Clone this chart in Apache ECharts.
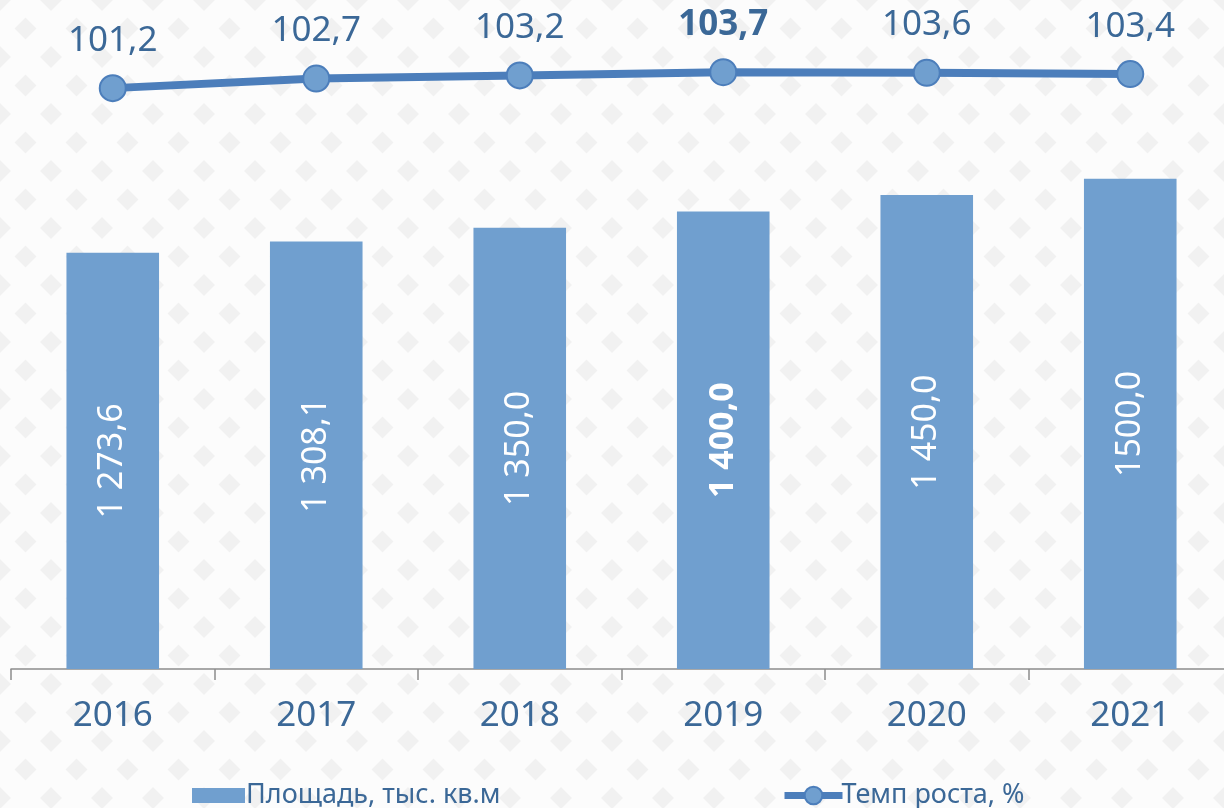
<!DOCTYPE html>
<html lang="ru">
<head>
  <meta charset="UTF-8">
  <title>Площадь и темп роста</title>
  <script src="https://cdn.jsdelivr.net/npm/echarts@6/dist/echarts.min.js"></script>
  <style>
    html, body { margin: 0; padding: 0; background: #fcfcfc; }
    #chart { width: 1224px; height: 808px; }
  </style>
</head>
<body>
<div id="chart"></div>
<script type="text/javascript">
  // data
  var years = ['2016', '2017', '2018', '2019', '2020', '2021'];
  var area = [1273.6, 1308.1, 1350.0, 1400.0, 1450.0, 1500.0];
  var areaLabels = ['1 273,6', '1 308,1', '1 350,0', '1 400,0', '1 450,0', '1500,0'];
  var growth = [101.2, 102.7, 103.2, 103.7, 103.6, 103.4];
  var growthLabels = ['101,2', '102,7', '103,2', '103,7', '103,6', '103,4'];
  var boldIndex = 3;

  var barColor = '#709fcf';
  var lineColor = '#4c7ebb';
  var textColor = '#3b6897';
  var font = 'Noto Sans';

  // faint diamond background
  var pat = document.createElement('canvas');
  pat.width = 51; pat.height = 57;
  var ctx = pat.getContext('2d');
  ctx.fillStyle = '#fcfcfc';
  ctx.fillRect(0, 0, 51, 57);
  ctx.fillStyle = '#f1f1f1';
  function diamond(cx, cy, r) {
    ctx.beginPath();
    ctx.moveTo(cx, cy - r); ctx.lineTo(cx + r, cy); ctx.lineTo(cx, cy + r); ctx.lineTo(cx - r, cy);
    ctx.closePath(); ctx.fill();
  }
  [[0, 0], [51, 0], [0, 57], [51, 57], [25.5, 28.5]].forEach(function (p) { diamond(p[0], p[1], 11); });

  var chart = echarts.init(document.getElementById('chart'));

  var option = {
    backgroundColor: { image: pat, repeat: 'repeat' },
    animation: false,
    grid: { left: 11, width: 1221, top: 48, bottom: 139, outerBoundsMode: 'none' },
    legend: [
      {
        left: 187, top: 777,
        itemWidth: 53, itemHeight: 15, itemGap: 0,
        data: [{ name: 'Площадь, тыс. кв.м', icon: 'rect' }],
        textStyle: { color: textColor, fontSize: 27, fontFamily: font, padding: [0, 0, 0, -4] }
      },
      {
        left: 776, top: 777,
        itemWidth: 58, itemHeight: 22,
        data: [{ name: 'Темп роста, %', lineStyle: { width: 7 } }],
        textStyle: { color: textColor, fontSize: 27, fontFamily: font, padding: [0, 0, 0, -6] }
      }
    ],
    xAxis: {
      type: 'category',
      data: years,
      axisLine: { lineStyle: { color: '#8c8c8c', width: 1.5 } },
      axisTick: { show: true, length: 11, lineStyle: { color: '#8c8c8c', width: 1.5 } },
      axisLabel: { color: textColor, fontSize: 35, fontFamily: font, margin: 30 }
    },
    yAxis: [
      { type: 'value', min: 0, max: 1900, show: false, splitLine: { show: false } },
      { type: 'value', min: 10, max: 107.5, show: false, splitLine: { show: false } }
    ],
    series: [
      {
        name: 'Площадь, тыс. кв.м',
        type: 'bar',
        yAxisIndex: 0,
        barWidth: '45.5%',
        itemStyle: { color: barColor },
        data: area.map(function (v, i) {
          return {
            value: v,
            label: {
              fontWeight: i === boldIndex ? 'bold' : 'normal'
            }
          };
        }),
        label: {
          show: true,
          position: 'inside',
          rotate: 90,
          color: '#ffffff',
          fontSize: 34,
          fontFamily: font,
          formatter: function (p) { return areaLabels[p.dataIndex]; }
        }
      },
      {
        name: 'Темп роста, %',
        type: 'line',
        yAxisIndex: 1,
        clip: false,
        symbol: 'circle',
        symbolSize: 26,
        lineStyle: { color: lineColor, width: 8 },
        itemStyle: { color: barColor, borderColor: lineColor, borderWidth: 2 },
        data: growth.map(function (v, i) {
          return {
            value: v,
            label: {
              fontWeight: i === boldIndex ? 'bold' : 'normal'
            }
          };
        }),
        label: {
          show: true,
          position: 'top',
          distance: 16,
          color: textColor,
          fontSize: 35,
          fontFamily: font,
          formatter: function (p) { return growthLabels[p.dataIndex]; }
        }
      }
    ]
  };
  chart.setOption(option);
</script>
</body>
</html>
